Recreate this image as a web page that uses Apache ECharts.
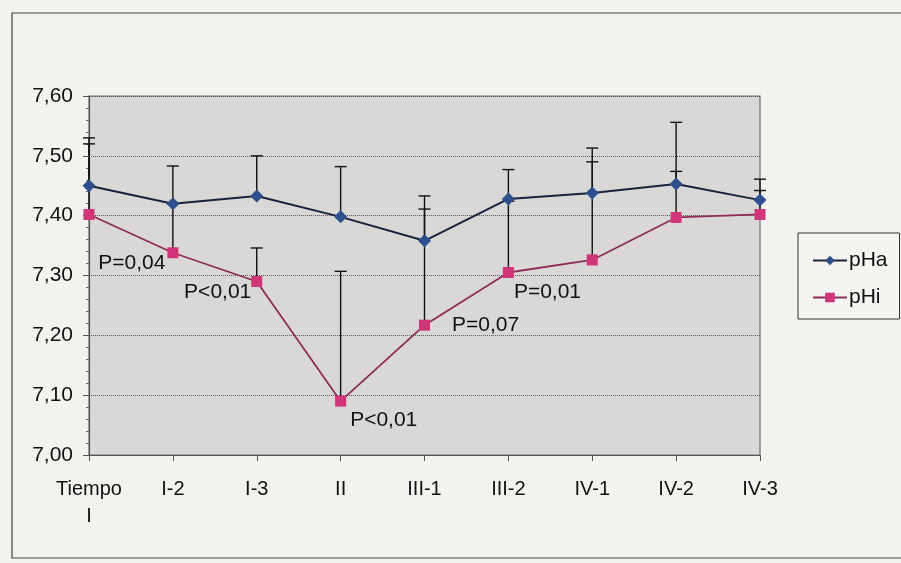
<!DOCTYPE html>
<html>
<head>
<meta charset="utf-8">
<script src="https://cdn.jsdelivr.net/npm/echarts@6/dist/echarts.min.js"></script>
<style>
html,body{margin:0;padding:0;background:#f4f2ef;}
#c{width:901px;height:563px;}
</style>
</head>
<body>
<div id="c"></div>
<script>
const categories = ['Tiempo\nI', 'I-2', 'I-3', 'II', 'III-1', 'III-2', 'IV-1', 'IV-2', 'IV-3'];
const pHa = [7.45, 7.42, 7.433, 7.398, 7.358, 7.428, 7.438, 7.453, 7.426];
const pHi = [7.402, 7.338, 7.29, 7.09, 7.217, 7.305, 7.326, 7.397, 7.402];
const pHaHigh = [7.53, 7.483, 7.50, 7.482, 7.433, 7.477, 7.513, 7.556, 7.461];
const pHiHigh = [7.52, 7.42, 7.346, 7.307, 7.411, 7.424, 7.49, 7.474, 7.442];
const pLabels = ['', 'P=0,04', 'P<0,01', 'P<0,01', 'P=0,07', 'P=0,01', '', '', ''];
const yTicks = { min: 7.0, max: 7.6, interval: 0.1 };

// label placement (style only)
const labelPlace = [
  null,
  { position: 'left', offset: [3, 10] },
  { position: 'left', offset: [5, 11] },
  { position: 'right', offset: [-1, 19] },
  { position: 'right', offset: [17, 0] },
  { position: 'right', offset: [-5, 20] },
  null, null, null
];

const chart = echarts.init(document.getElementById('c'), null, { renderer: 'canvas' });

function errData(vals, highs) {
  return vals.map((v, i) => [i, v, highs[i]]);
}
function errRender(params, api) {
  const x = api.value(0), lo = api.value(1), hi = api.value(2);
  const p1 = api.coord([x, lo]);
  const p2 = api.coord([x, hi]);
  const style = { stroke: '#111', lineWidth: 1.4 };
  return {
    type: 'group',
    children: [
      { type: 'line', shape: { x1: p1[0], y1: p1[1], x2: p2[0], y2: p2[1] }, style },
      { type: 'line', shape: { x1: p2[0] - 6, y1: p2[1], x2: p2[0] + 6, y2: p2[1] }, style }
    ]
  };
}

const pHiData = pHi.map((v, i) => {
  const item = { value: v };
  if (pLabels[i]) {
    item.label = Object.assign({ show: true, formatter: pLabels[i], distance: 5 }, labelPlace[i]);
  }
  return item;
});

const font = '"Liberation Sans", Arial, sans-serif';

chart.setOption({
  backgroundColor: '#f4f2ef',
  animation: false,
  textStyle: { fontFamily: font },
  graphic: [
    { type: 'rect', shape: { x: 12, y: 13, width: 940, height: 545 }, style: { fill: 'none', stroke: '#444', lineWidth: 1.2 }, z: -10 }
  ],
  grid: { left: 89, right: 141, top: 96, bottom: 108, show: true, backgroundColor: '#d9d8d6', borderColor: '#6e6e6e', borderWidth: 1.2 },
  legend: {
    data: ['pHa', 'pHi'],
    orient: 'vertical',
    left: 798, top: 233,
    padding: [17, 12, 11, 14],
    itemGap: 16,
    itemWidth: 34, itemHeight: 12,
    backgroundColor: '#f6f4f1',
    borderColor: '#333', borderWidth: 1,
    textStyle: { fontSize: 21, color: '#111', fontFamily: font, padding: [0, 0, 0, -3] }
  },
  xAxis: {
    type: 'category',
    data: categories,
    boundaryGap: false,
    axisLine: { lineStyle: { color: '#555', width: 1.2 } },
    axisTick: { show: true, alignWithLabel: true, length: 6, lineStyle: { color: '#555' } },
    axisLabel: { fontSize: 20, color: '#111', margin: 21, lineHeight: 27, interval: 0, fontFamily: font },
    splitLine: { show: false }
  },
  yAxis: {
    type: 'value',
    min: yTicks.min, max: yTicks.max, interval: yTicks.interval,
    axisLine: { show: true, lineStyle: { color: '#555', width: 1.2 } },
    axisTick: { show: true, length: 6, lineStyle: { color: '#555' } },
    minorTick: { show: true, splitNumber: 5, length: 3, lineStyle: { color: '#666' } },
    axisLabel: { fontSize: 21, color: '#111', margin: 16, fontFamily: font,
      formatter: v => v.toFixed(2).replace('.', ',') },
    splitLine: { show: true, lineStyle: { color: '#555', type: 'dotted', width: 1 } }
  },
  series: [
    { name: 'errHa', type: 'custom', data: errData(pHa, pHaHigh), renderItem: errRender, z: 1, silent: true },
    { name: 'errHi', type: 'custom', data: errData(pHi, pHiHigh), renderItem: errRender, z: 1, silent: true },
    {
      name: 'pHi', type: 'line', data: pHiData, z: 3,
      symbol: 'rect', symbolSize: 11,
      lineStyle: { color: '#8e2b58', width: 1.8 },
      itemStyle: { color: '#d03579' },
      label: { show: false, fontSize: 21, color: '#111', fontFamily: font }
    },
    {
      name: 'pHa', type: 'line', data: pHa, z: 4,
      symbol: 'diamond', symbolSize: 13,
      lineStyle: { color: '#17223f', width: 2 },
      itemStyle: { color: '#2d4f8e' }
    }
  ]
});
</script>
</body>
</html>
